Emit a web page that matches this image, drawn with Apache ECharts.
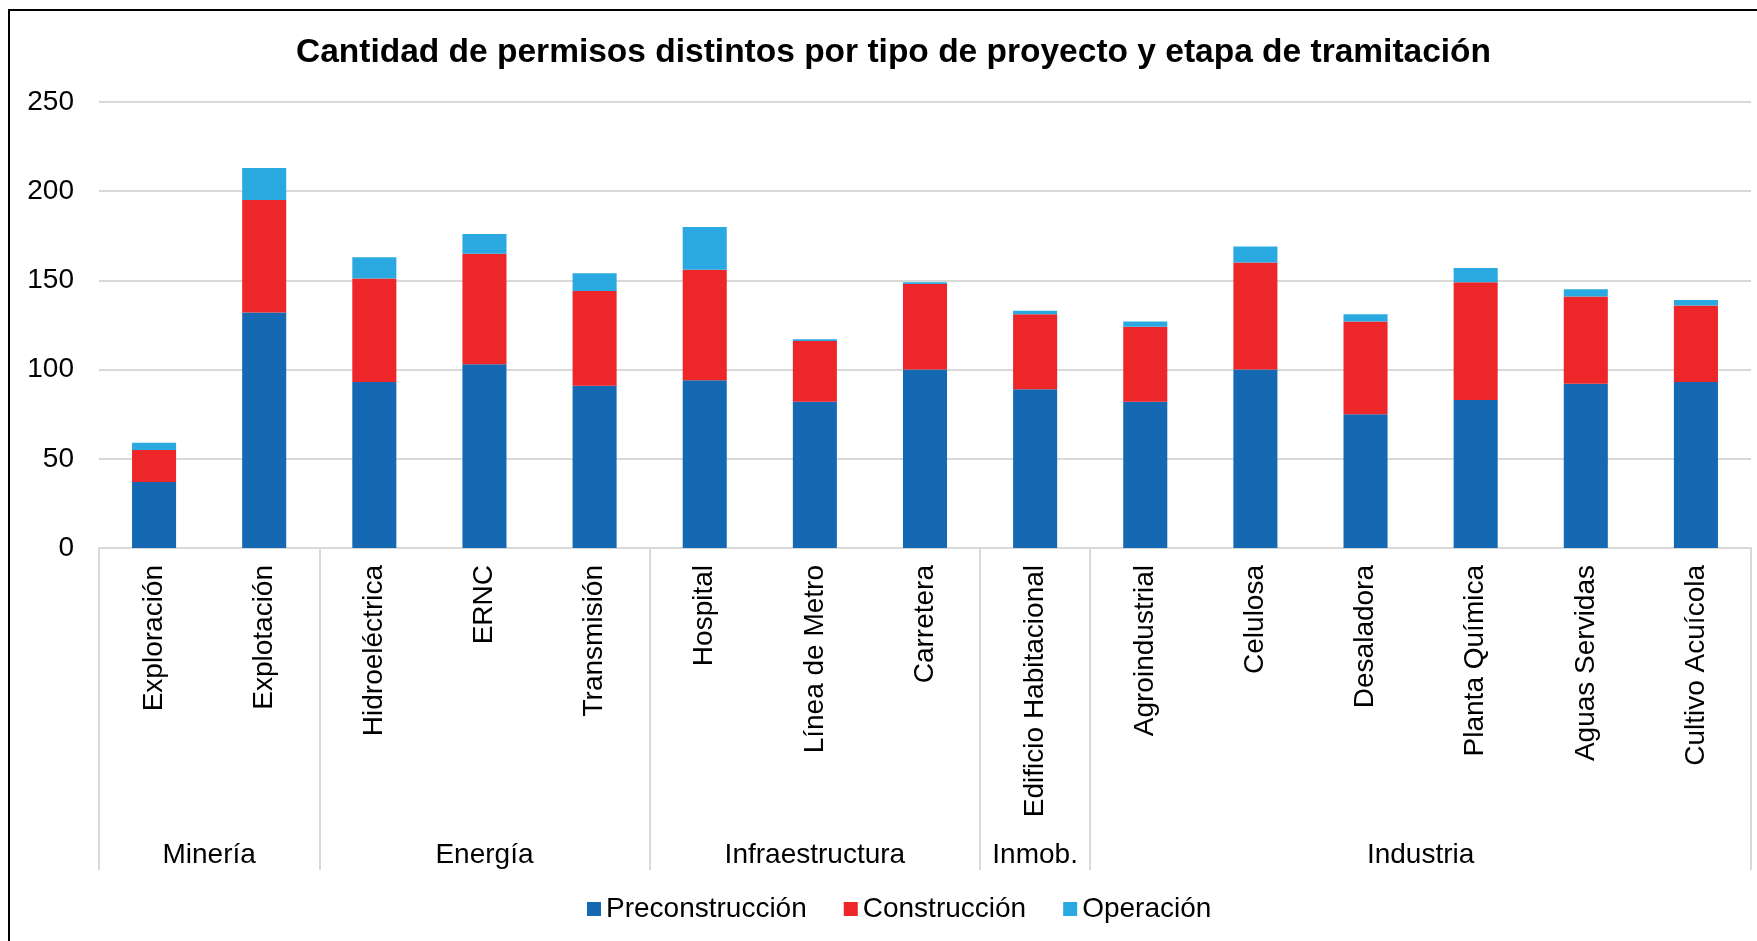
<!DOCTYPE html>
<html>
<head>
<meta charset="utf-8">
<title>Cantidad de permisos distintos</title>
<script src="https://cdn.jsdelivr.net/npm/echarts@6.0.0/dist/echarts.min.js"></script>
<style>
	html, body { margin: 0; padding: 0; background: #fff; }
	#main { width: 1757px; height: 941px; }
</style>
</head>
<body>
<div id="main"></div>
<script>
var categories = ['Exploración', 'Explotación', 'Hidroeléctrica', 'ERNC', 'Transmisión', 'Hospital', 'Línea de Metro', 'Carretera', 'Edificio Habitacional', 'Agroindustrial', 'Celulosa', 'Desaladora', 'Planta Química', 'Aguas Servidas', 'Cultivo Acuícola'];
var preconstruccion = [37, 132, 93, 103, 91, 94, 82, 100, 89, 82, 100, 75, 83, 92, 93];
var construccion = [18, 63, 58, 62, 53, 62, 34, 48, 42, 42, 60, 52, 66, 49, 43];
var operacion = [4, 18, 12, 11, 10, 24, 1, 1, 2, 3, 9, 4, 8, 4, 3];
var groups = ['Minería', 'Energía', 'Infraestructura', 'Inmob.', 'Industria'];
var groupSizes = [2, 3, 3, 1, 6];

var FONT = "'Liberation Sans', Arial, sans-serif";

// limites y centros de cada grupo (en unidades de categoria)
var groupEdges = [0];
var groupCenters = [];
for (var i = 0; i < groupSizes.length; i++) {
	var start = groupEdges[groupEdges.length - 1];
	groupCenters.push(start + groupSizes[i] / 2);
	groupEdges.push(start + groupSizes[i]);
}

var myChart = echarts.init(document.getElementById('main'));
var option = {
	backgroundColor: '#fff',
	animation: false,
	textStyle: { fontFamily: FONT },
	title: {
		text: 'Cantidad de permisos distintos por tipo de proyecto y etapa de tramitación',
		left: 296,
		top: 36,
		padding: 0,
		textStyle: { fontFamily: FONT, fontSize: 33.5, fontWeight: 'bold', color: '#000' }
	},
	legend: {
		data: ['Preconstrucción', 'Construcción', 'Operación'],
		left: 582,
		top: 890,
		icon: 'rect',
		itemWidth: 14,
		itemHeight: 14,
		itemGap: 37,
		textStyle: { fontFamily: FONT, fontSize: 28, color: '#000' }
	},
	graphic: [{
		type: 'rect',
		shape: { x: 9, y: 10, width: 1800, height: 1000 },
		style: { fill: 'none', stroke: '#000', lineWidth: 2 },
		silent: true
	}],
	grid: { left: 99, right: 6, top: 102, bottom: 393, containLabel: false },
	xAxis: [
		{
			type: 'category',
			data: categories,
			axisLine: { lineStyle: { color: '#d9d9d9', width: 2 } },
			axisTick: { show: false },
			axisLabel: { rotate: 90, margin: 17, fontSize: 28, color: '#000', fontFamily: FONT, interval: 0 }
		},
		{
			type: 'value',
			min: 0,
			max: categories.length,
			position: 'bottom',
			axisLine: { show: false },
			splitLine: { show: false },
			axisTick: {
				show: true,
				customValues: groupEdges,
				length: 322,
				lineStyle: { color: '#d9d9d9', width: 2 }
			},
			axisLabel: {
				customValues: groupCenters,
				margin: 307,
				verticalAlign: 'middle',
				fontSize: 28,
				color: '#000',
				fontFamily: FONT,
				formatter: function (v) {
					for (var k = 0; k < groupCenters.length; k++) {
						if (Math.abs(groupCenters[k] - v) < 1e-6) return groups[k];
					}
					return '';
				}
			}
		}
	],
	yAxis: {
		type: 'value',
		min: 0,
		max: 250,
		interval: 50,
		axisLine: { show: false },
		axisTick: { show: false },
		splitLine: { lineStyle: { color: '#d9d9d9', width: 2 } },
		axisLabel: { margin: 25, fontSize: 28, color: '#000', fontFamily: FONT, padding: [5, 0, 0, 0] }
	},
	series: [
		{
			name: 'Preconstrucción',
			type: 'bar',
			stack: 'total',
			barWidth: '40%',
			itemStyle: { color: '#1569b3' },
			data: preconstruccion
		},
		{
			name: 'Construcción',
			type: 'bar',
			stack: 'total',
			barWidth: '40%',
			itemStyle: { color: '#ed2629' },
			data: construccion
		},
		{
			name: 'Operación',
			type: 'bar',
			stack: 'total',
			barWidth: '40%',
			itemStyle: { color: '#29a9e0' },
			data: operacion
		}
	]
};
myChart.setOption(option);
</script>
</body>
</html>
